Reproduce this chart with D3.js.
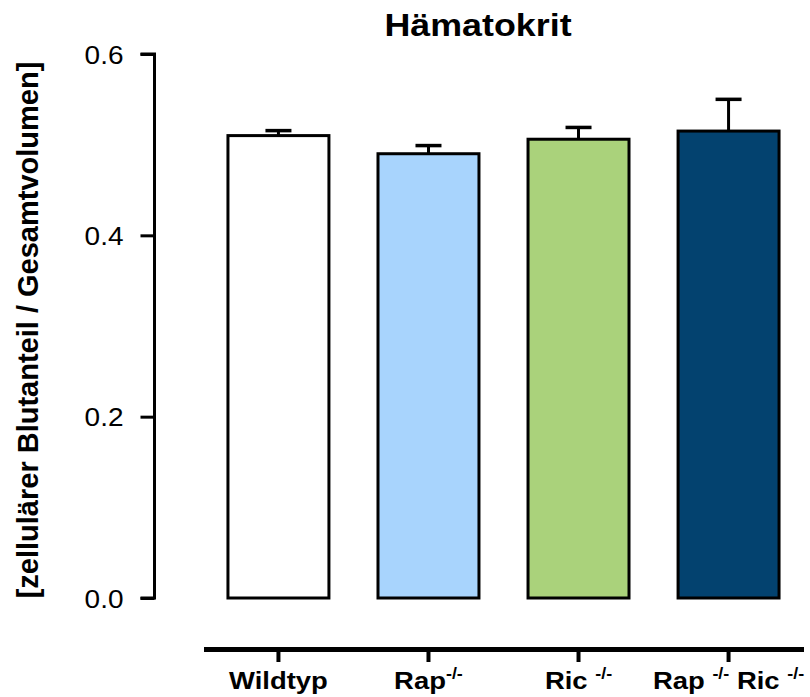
<!DOCTYPE html>
<html>
<head>
<meta charset="utf-8">
<script src="https://cdn.jsdelivr.net/npm/d3@7"></script>
<style>
  html, body { margin: 0; padding: 0; background: #fff; }
  svg { display: block; font-family: "Liberation Sans", Arial, sans-serif; }
</style>
</head>
<body>
<svg id="chart" width="810" height="697"></svg>
<script>
// Hämatokrit per genotype: mean and SEM
const groups = ["Wildtyp", "Rap", "Ric", "RapRic"];
const means = [0.510, 0.490, 0.506, 0.515];
const errors = [0.0055, 0.009, 0.013, 0.035];
const fills = ["#ffffff", "#a8d4fd", "#aad27b", "#03426f"];
const yTicks = [0.0, 0.2, 0.4, 0.6];
// category label pieces: [text, isSuperscript]
const xLabels = [
  [["Wildtyp", false]],
  [["Rap", false], ["-/-", true]],
  [["Ric ", false], ["-/-", true]],
  [["Rap ", false], ["-/-", true], [" Ric ", false], ["-/-", true]]
];

const svg = d3.select("#chart");
const wide = 1.12; // horizontal text stretch

const y = d3.scaleLinear().domain([0, 0.6]).range([598, 54]);
const x = d3.scaleBand().domain(groups).range([203.5, 803.5]).paddingInner(0.327).paddingOuter(0.163);

// title
svg.append("text")
  .attr("transform", `translate(478,36) scale(${wide},1)`)
  .attr("text-anchor", "middle")
  .attr("font-size", 32).attr("font-weight", "bold")
  .text("Hämatokrit");

// y axis
const yAxis = d3.axisLeft(y).tickValues(yTicks).tickFormat(d3.format(".1f")).tickSize(14).tickSizeOuter(14).tickPadding(0);
const gy = svg.append("g").attr("transform", "translate(154.5,0)").call(yAxis);
gy.select(".domain").attr("stroke", "#000").attr("stroke-width", 3);
gy.selectAll(".tick line").attr("stroke", "#000").attr("stroke-width", 3);
gy.selectAll(".tick text")
  .attr("x", null).attr("dy", null)
  .attr("transform", `translate(-31,9) scale(${wide},1)`)
  .attr("font-size", 25).attr("fill", "#000")
  .attr("font-family", "Liberation Sans, Arial, sans-serif");
gy.select(".domain").attr("d", `M-14,${y(0.6)}H0V${y(0)}H-14`);

// y axis title
svg.append("text")
  .attr("transform", "translate(38,330) rotate(-90)")
  .attr("text-anchor", "middle")
  .attr("font-size", 29).attr("font-weight", "bold")
  .text("[zellulärer Blutanteil / Gesamtvolumen]");

// x axis (detached below the plot)
const xAxis = d3.axisBottom(x).tickSize(13).tickSizeOuter(0).tickFormat("");
const gx = svg.append("g").attr("transform", "translate(0,649)").call(xAxis);
gx.select(".domain").attr("stroke", "#000").attr("stroke-width", 5);
gx.selectAll(".tick line").attr("stroke", "#000").attr("stroke-width", 4);

// category labels with superscripts
groups.forEach((g, i) => {
  const t = svg.append("text")
    .attr("transform", `translate(${x(g) + x.bandwidth() / 2},689) scale(${wide},1)`)
    .attr("text-anchor", "middle")
    .attr("font-size", 24.5).attr("font-weight", "bold");
  let raised = false;
  xLabels[i].forEach(([s, sup]) => {
    const ts = t.append("tspan").text(s);
    if (sup) { ts.attr("font-size", 16).attr("dy", -10); raised = true; }
    else if (raised) { ts.attr("dy", 10); raised = false; }
  });
});

// error bars (upper only)
const eb = svg.append("g");
groups.forEach((g, i) => {
  const cx = x(g) + x.bandwidth() / 2;
  eb.append("line")
    .attr("x1", cx).attr("x2", cx)
    .attr("y1", y(means[i])).attr("y2", y(means[i] + errors[i]))
    .attr("stroke", "#000").attr("stroke-width", 3);
  eb.append("line")
    .attr("x1", cx - 13).attr("x2", cx + 13)
    .attr("y1", y(means[i] + errors[i])).attr("y2", y(means[i] + errors[i]))
    .attr("stroke", "#000").attr("stroke-width", 3.5);
});

// bars
svg.append("g").selectAll("rect")
  .data(groups)
  .join("rect")
  .attr("x", d => x(d))
  .attr("y", (d, i) => y(means[i]))
  .attr("width", x.bandwidth())
  .attr("height", (d, i) => y(0) - y(means[i]))
  .attr("fill", (d, i) => fills[i])
  .attr("stroke", "#000")
  .attr("stroke-width", 3);
</script>
</body>
</html>
